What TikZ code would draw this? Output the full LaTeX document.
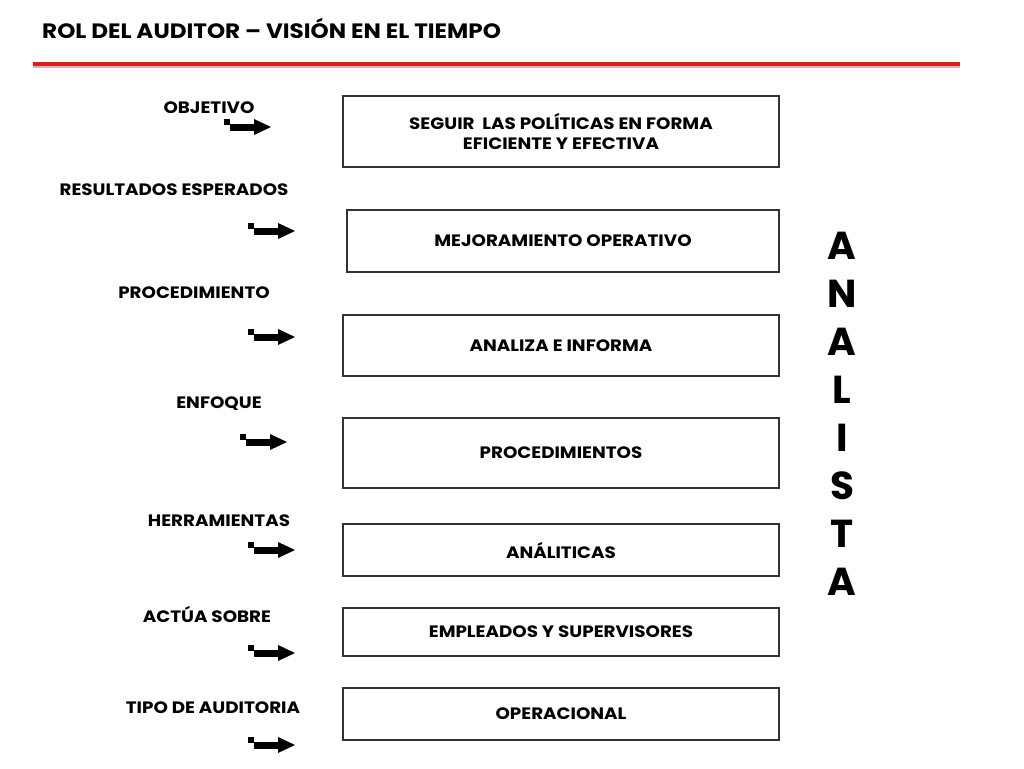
\documentclass[tikz,border=0pt]{standalone}
\usepackage{fontspec}
\setmainfont{Poppins}[FakeStretch=1.11]
\newfontfamily\bigfont{Poppins}
\definecolor{boxgray}{HTML}{333333}
\definecolor{redline}{HTML}{E31B1B}
\begin{document}
\begin{tikzpicture}[x=1pt,y=-1pt,
  txt/.style={font=\fontsize{16.5}{20}\selectfont\bfseries, inner sep=0pt, align=center},
  lbl/.style={txt},
  box/.style={draw=boxgray, line width=1.3pt, minimum width=436pt, inner sep=0pt, txt},
  big/.style={font=\bigfont\fontsize{39}{42}\selectfont\bfseries, inner sep=0pt},
  hookarr/.pic={
    \fill (0,-8) rectangle (6,-2);
    \fill (6,-3.5) rectangle (31,3.5);
    \fill (30,-8) -- (47,0) -- (30,8) -- cycle;
  }]
\useasboundingbox[fill=white] (0,0) rectangle (1024,768);
% title and rule
\node[anchor=west, font=\fontsize{20.8}{24}\selectfont\bfseries, inner sep=0pt] (title) at (42,28) {ROL DEL AUDITOR – VISIÓN EN EL TIEMPO};
\coordinate (rl) at (33,64);
\coordinate (rr) at (960,64);
\draw[black!25, line width=2pt] ([yshift=-2.5pt]rl) -- ([yshift=-2.5pt]rr);
\draw[redline, line width=3.5pt] (rl) -- (rr);
% boxes
\node[box, minimum height=71pt] (b1) at (561,131.5) {SEGUIR\ \ LAS POLÍTICAS EN FORMA\\EFICIENTE Y EFECTIVA};
\node[box, minimum height=62pt, minimum width=432pt] (b2) at (563,241) {MEJORAMIENTO OPERATIVO};
\node[box, minimum height=61pt] (b3) at (561,345.5) {ANALIZA E INFORMA};
\node[box, minimum height=70pt] (b4) at (561,453) {PROCEDIMIENTOS};
\node[box, minimum height=52pt] (b5) at (561,550) {ANÁLITICAS};
\node[box, minimum height=48pt] (b6) at (561,632) {EMPLEADOS Y SUPERVISORES};
\node[box, minimum height=52pt] (b7) at (561,714) {OPERACIONAL};
% labels
\node[lbl] (l1) at (209,108) {OBJETIVO};
\node[lbl] (l2) at (174,190) {RESULTADOS ESPERADOS};
\node[lbl] (l3) at (194,293) {PROCEDIMIENTO};
\node[lbl] (l4) at (219,404) {ENFOQUE};
\node[lbl] (l5) at (219,521) {HERRAMIENTAS};
\node[lbl] (l6) at (207,614) {ACTÚA SOBRE};
\node[lbl] (l7) at (213,708) {TIPO DE AUDITORIA};
% arrows
\pic at (224,127) {hookarr};
\pic at (248,231) {hookarr};
\pic at (248,337) {hookarr};
\pic at (240,442) {hookarr};
\pic at (248,550) {hookarr};
\pic at (248,653) {hookarr};
\pic at (248,745) {hookarr};
% vertical word
\foreach \ch [count=\i] in {A,N,A,L,I,S,T,A} {
  \node[big] (v\i) at (842,{246+(\i-1)*48}) {\ch};
}
\end{tikzpicture}
\end{document}
